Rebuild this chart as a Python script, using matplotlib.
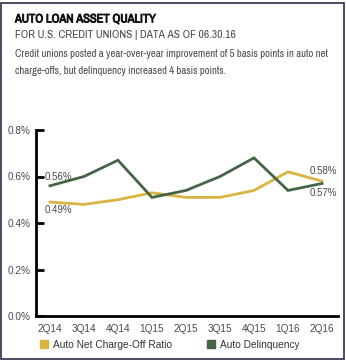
import matplotlib
matplotlib.use("Agg")
import matplotlib.pyplot as plt
import matplotlib.patheffects as pe
from matplotlib.patches import Rectangle
from matplotlib.lines import Line2D

quarters = ["2Q14", "3Q14", "4Q14", "1Q15", "2Q15", "3Q15", "4Q15", "1Q16", "2Q16"]
charge_off = [0.49, 0.48, 0.50, 0.53, 0.51, 0.51, 0.54, 0.62, 0.58]
delinquency = [0.56, 0.60, 0.67, 0.51, 0.54, 0.60, 0.68, 0.54, 0.57]
yticks = [0.0, 0.2, 0.4, 0.6, 0.8]

YELLOW = "#D9B441"
GREEN = "#476446"
TEXT = "#4A4A4A"

narrow = ["Archivo Narrow", "PT Sans Narrow", "DejaVu Sans"]
body = ["Liberation Sans", "DejaVu Sans"]

W, H = 346, 360
fig = plt.figure(figsize=(W / 100, H / 100), dpi=100)
fig.patch.set_facecolor("white")

# border
fig.add_artist(Rectangle((1.5 / W, 1.5 / H), (W - 4) / W, (H - 4) / H,
                         transform=fig.transFigure, fill=False,
                         edgecolor="#2B2E4A", linewidth=1.2))

fig.text(15 / W, 1 - 19 / H, "AUTO LOAN ASSET QUALITY", family=narrow,
         fontsize=8.9, fontweight="bold", color="#111111", va="center",
         path_effects=[pe.withStroke(linewidth=0.6, foreground="#111111")])
fig.text(15 / W, 1 - 35 / H, "FOR U.S. CREDIT UNIONS | DATA AS OF 06.30.16", family=narrow,
         fontsize=8.3, color=TEXT, va="center")
fig.text(15 / W, 1 - 54 / H,
         "Credit unions posted a year-over-year improvement of 5 basis points in auto net",
         family=narrow, fontsize=7.7, color=TEXT, va="center")
fig.text(15 / W, 1 - 71 / H, "charge-offs, but delinquency increased 4 basis points.",
         family=narrow, fontsize=7.7, color=TEXT, va="center")

ax = fig.add_axes([36 / W, 1 - 316 / H, (338 - 36) / W, (316 - 130) / H])
x = list(range(len(quarters)))
ax.plot(x, charge_off, color=YELLOW, linewidth=2.0, solid_joinstyle="miter")
ax.plot(x, delinquency, color=GREEN, linewidth=2.0, solid_joinstyle="miter")

ax.set_xlim(-0.41, 8.47)
ax.set_ylim(0, 0.8)
ax.set_yticks(yticks)
ax.set_yticklabels([f"{v:.1f}%" for v in yticks], family=body)
ax.set_xticks(x)
ax.set_xticklabels(quarters, family=body)
for s in ["top", "right"]:
    ax.spines[s].set_visible(False)
for s in ["left", "bottom"]:
    ax.spines[s].set_linewidth(2.0)
    ax.spines[s].set_color("black")
ax.tick_params(axis="y", direction="in", length=6, width=2, labelsize=7.2,
               labelcolor=TEXT, pad=4)
ax.tick_params(axis="x", length=0, labelsize=7.2, labelcolor=TEXT, pad=6)

lab = dict(textcoords="offset points", fontsize=7, color=TEXT, ha="left",
           va="center", family=body)
ax.annotate(f"{delinquency[0]:.2f}%", (x[0], delinquency[0]), xytext=(-4, 6), **lab)
ax.annotate(f"{charge_off[0]:.2f}%", (x[0], charge_off[0]), xytext=(-4, -6), **lab)
ax.annotate(f"{charge_off[-1]:.2f}%", (x[-1], charge_off[-1]), xytext=(-9, 7), **lab)
ax.annotate(f"{delinquency[-1]:.2f}%", (x[-1], delinquency[-1]), xytext=(-9, -7), **lab)

handles = [Line2D([], [], marker="s", linestyle="none", markersize=5.5,
                  markerfacecolor=YELLOW, markeredgecolor=YELLOW),
           Line2D([], [], marker="s", linestyle="none", markersize=5.5,
                  markerfacecolor=GREEN, markeredgecolor=GREEN)]
leg = fig.legend(handles, ["Auto Net Charge-Off Ratio", "Auto Delinquency"],
                 loc="center", bbox_to_anchor=(0.49, 1 - 345 / H), ncol=2,
                 frameon=False, prop={"family": body, "size": 7.3},
                 handlelength=0.8, handletextpad=0.5, columnspacing=3.4)
for t in leg.get_texts():
    t.set_color("#333333")

fig.savefig("out.png", dpi=100)
